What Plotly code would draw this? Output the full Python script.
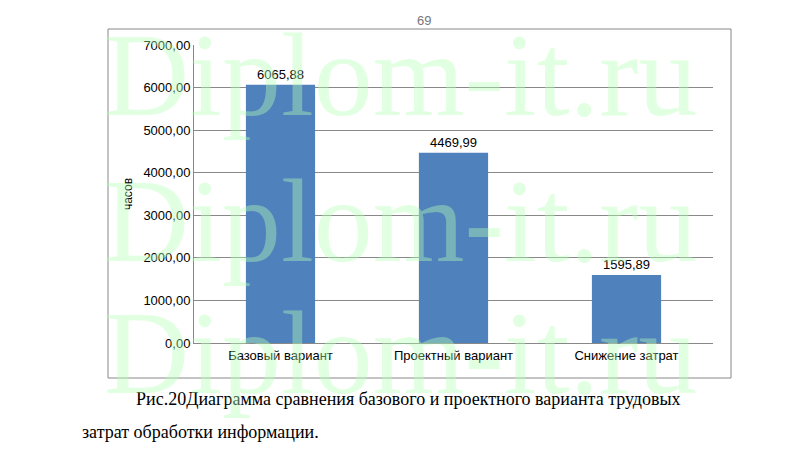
import plotly.graph_objects as go

categories = ["Базовый вариант", "Проектный вариант", "Снижение затрат"]
values = [6065.88, 4469.99, 1595.89]
y_ticks = [0, 1000, 2000, 3000, 4000, 5000, 6000, 7000]

W, H = 796, 451


def px_x(x):
    return x / W


def px_y(y):
    return 1 - y / H


fig = go.Figure()
fig.add_trace(go.Bar(
    x=categories, y=values,
    marker=dict(color="#4F81BD", line=dict(width=0)),
    text=values, texttemplate="%{y:.2f}", textposition="outside",
    textfont=dict(size=13, color="black"),
    cliponaxis=False,
))

# chart frame
fig.add_shape(type="rect", xref="paper", yref="paper",
              x0=px_x(100), x1=px_x(723), y0=px_y(370), y1=px_y(21),
              line=dict(color="#888888", width=1), layer="below")

# page number and caption
fig.add_annotation(text="69", x=px_x(416), y=px_y(3), xref="paper", yref="paper",
                   showarrow=False, font=dict(size=13, color="#777777"))
fig.add_annotation(text="Рис.20Диаграмма сравнения базового и проектного варианта трудовых",
                   x=px_x(126), y=px_y(403), xref="paper", yref="paper", xanchor="left",
                   showarrow=False, font=dict(family="Liberation Serif", size=18, color="black"))
fig.add_annotation(text="затрат обработки информации.",
                   x=px_x(72), y=px_y(436), xref="paper", yref="paper", xanchor="left",
                   showarrow=False, font=dict(family="Liberation Serif", size=18, color="black"))

# watermark
for yc in [68, 213, 345]:
    fig.add_annotation(text="Diplom-it.ru", x=px_x(392), y=px_y(yc), xref="paper", yref="paper",
                       xanchor="center", yanchor="middle", showarrow=False,
                       font=dict(family="Liberation Serif", size=118, color="rgba(180,255,180,0.4)"))

fig.update_layout(
    width=W, height=H, autosize=False,
    margin=dict(l=0, r=0, t=0, b=0, autoexpand=False),
    paper_bgcolor="white", plot_bgcolor="white",
    separators=", ",
    font=dict(family="Liberation Sans", size=13, color="black"),
    bargap=0.6,
    showlegend=False,
    xaxis=dict(domain=[px_x(186), px_x(705)], showline=True, linecolor="#888888",
               ticks="", tickfont=dict(size=13), automargin=False),
    yaxis=dict(domain=[px_y(335), px_y(37)], range=[0, 7000], tickvals=y_ticks,
               tickformat=".2f", showgrid=True, gridcolor="#888888", showline=True,
               linecolor="#888888", zeroline=False, ticks="", automargin=False,
               title=dict(text="часов", font=dict(size=12), standoff=8)),
)

fig.write_html("out.html", config={"responsive": False})
